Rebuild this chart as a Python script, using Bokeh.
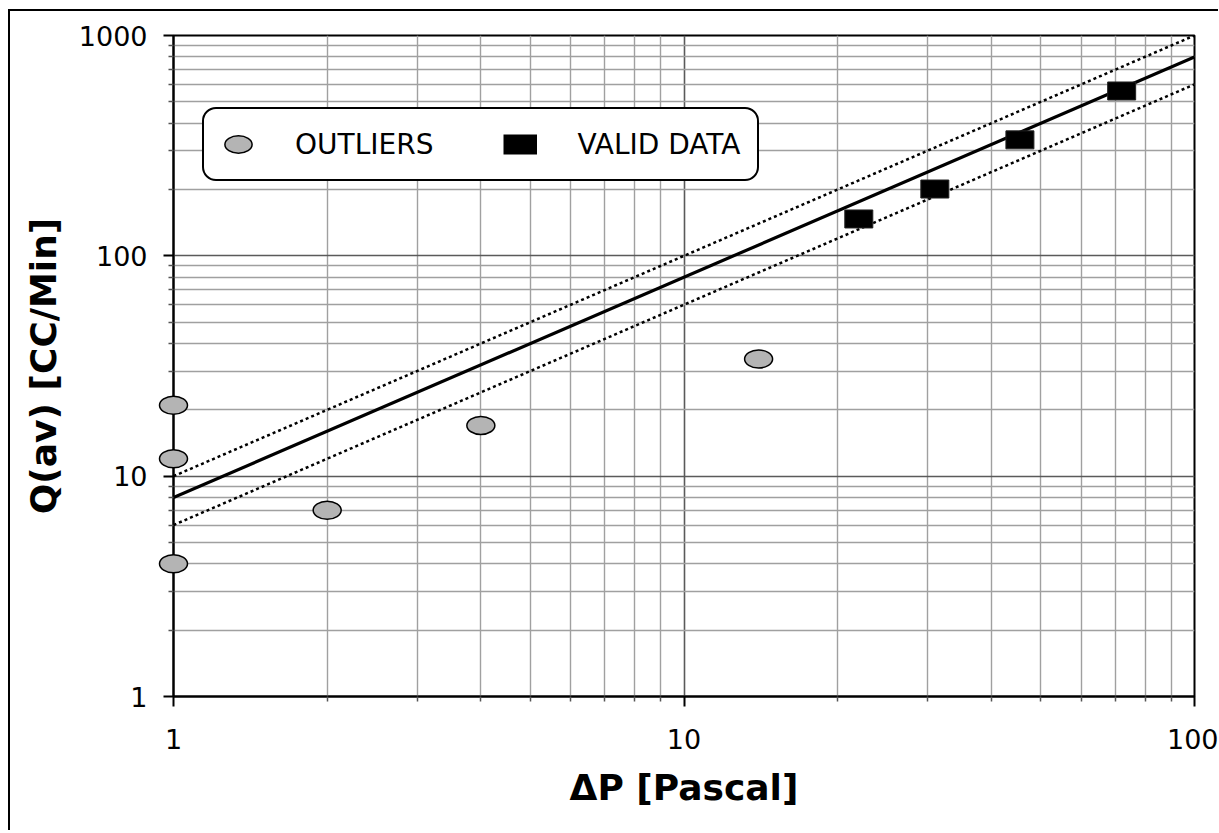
import numpy as np
from bokeh.plotting import figure
from bokeh.models import FixedTicker, Legend, LegendItem, BasicTickFormatter
from bokeh.embed import file_html
from bokeh.resources import INLINE

# ---- data ----
outlier_dp = [1, 1, 1, 2, 4, 14]
outlier_q = [21, 12, 4, 7, 17, 34]
valid_dp = [22, 31, 45.5, 72]
valid_q = [147, 201, 336, 560]
fit_dp = [1, 100]
fit_q = [8, 800]
upper_q = [10, 1000]
lower_q = [6, 600]

x_ticks = [1, 10, 100]
x_tick_labels = ["1", "10", "100"]
y_ticks = [1, 10, 100, 1000]
y_tick_labels = ["1", "10", "100", "1000"]
x_minor = [m * 10 ** k for k in range(0, 2) for m in range(2, 10)]
y_minor = [m * 10 ** k for k in range(0, 3) for m in range(2, 10)]

FONT = "DejaVu Sans"

p = figure(
    x_axis_type="log", y_axis_type="log",
    x_range=(1, 100), y_range=(1, 1000),
    frame_width=1021, frame_height=661,
    min_border_left=163, min_border_right=24, min_border_top=24, min_border_bottom=134,
    output_backend="svg", toolbar_location=None,
    background_fill_color="white", border_fill_color="white",
)
p.styles = {"border-top": "2px solid black", "border-left": "2px solid black",
            "margin-left": "8px", "margin-top": "9px"}
p.outline_line_color = "black"
p.outline_line_width = 2

xt = FixedTicker(ticks=x_ticks, minor_ticks=x_minor)
yt = FixedTicker(ticks=y_ticks, minor_ticks=y_minor)
p.xaxis.ticker = xt
p.yaxis.ticker = yt
p.xgrid.ticker = xt
p.ygrid.ticker = yt

for ax in (p.xaxis, p.yaxis):
    ax.formatter = BasicTickFormatter(use_scientific=False)
    ax.axis_line_color = "black"
    ax.axis_line_width = 2
    ax.major_tick_line_color = "black"
    ax.major_tick_line_width = 2
    ax.major_tick_out = 10
    ax.major_tick_in = 0
    ax.minor_tick_line_color = "#555555"
    ax.minor_tick_line_width = 1.5
    ax.minor_tick_out = 5
    ax.minor_tick_in = 0
    ax.major_label_text_font = FONT
    ax.major_label_text_font_size = "27px"
    ax.major_label_text_color = "black"
    ax.axis_label_text_font = FONT
    ax.axis_label_text_font_style = "bold"
    ax.axis_label_text_font_size = "36px"
    ax.axis_label_text_color = "black"

p.xaxis.major_label_overrides = {t: s for t, s in zip(x_ticks, x_tick_labels)}
p.yaxis.major_label_overrides = {t: s for t, s in zip(y_ticks, y_tick_labels)}
p.xaxis.major_label_standoff = 22
p.yaxis.major_label_standoff = 16
p.xaxis.axis_label_standoff = 15
p.yaxis.axis_label_standoff = 12
p.xaxis.axis_label = "ΔP [Pascal]"
p.yaxis.axis_label = "Q(av) [CC/Min]"

for g in (p.xgrid, p.ygrid):
    g.grid_line_color = "#5a5a5a"
    g.grid_line_width = 1.6
    g.minor_grid_line_color = "#a0a0a0"
    g.minor_grid_line_width = 1.4

# fit line and bounds
p.line(fit_dp, fit_q, line_color="black", line_width=3.2)
p.line(fit_dp, upper_q, line_color="black", line_width=2.5, line_dash="3 3")
p.line(fit_dp, lower_q, line_color="black", line_width=2.5, line_dash="3 3")

# valid data
r_valid = p.rect(valid_dp, valid_q, width=28, height=18,
                 width_units="screen", height_units="screen",
                 fill_color="black", line_color="#222222", line_width=1)

# outliers (annotation level so markers on the axis are not clipped)
r_out = p.ellipse(outlier_dp, outlier_q, width=28, height=18,
                  width_units="screen", height_units="screen",
                  fill_color="#b4b4b4", line_color="black", line_width=1.5,
                  level="annotation")

# legend swatch for the valid-data rectangle (wide bar)
r_leg = p.line(np.array([np.nan]), np.array([np.nan]), line_color="black", line_width=20)

legend = Legend(
    items=[LegendItem(label="OUTLIERS", renderers=[r_out]),
           LegendItem(label="VALID DATA", renderers=[r_leg])],
    orientation="horizontal",
    location=(29, 515),
    padding=17,
    spacing=70,
    label_standoff=40,
    glyph_width=34,
    glyph_height=36,
    label_text_font=FONT,
    label_text_font_size="28px",
    label_text_color="black",
    border_line_color="black",
    border_line_width=2,
    border_line_alpha=1.0,
    background_fill_color="white",
    background_fill_alpha=1.0,
)
if "border_radius" in Legend.properties():
    legend.border_radius = 14
p.add_layout(legend)

open("out.html", "w").write(file_html(p, INLINE))
